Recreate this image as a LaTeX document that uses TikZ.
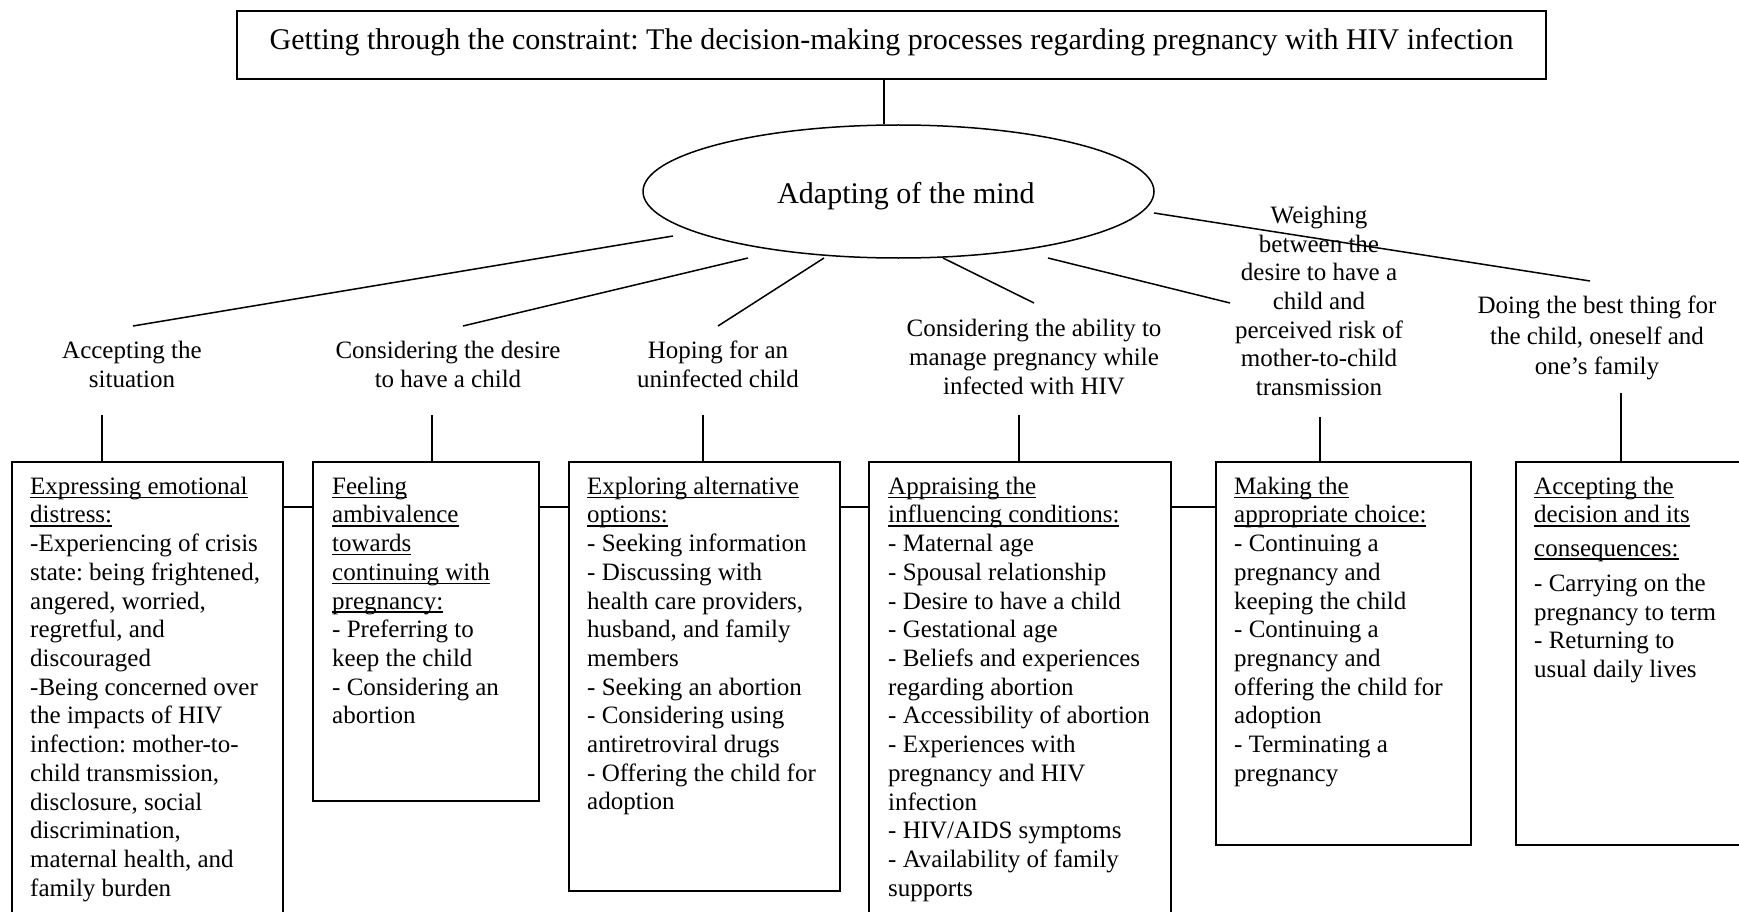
\documentclass[tikz,border=0pt]{standalone}
\usepackage{fontspec}
\setmainfont{Liberation Serif}
\usetikzlibrary{shapes.geometric}
\frenchspacing
% underlined heading line: rule drawn through the descenders, as in a word processor
\newsavebox{\hdbox}
\newcommand{\hd}[1]{\sbox{\hdbox}{#1}\rlap{\rule[-3.6pt]{\wd\hdbox}{1.3pt}}\usebox{\hdbox}}

\begin{document}
\begin{tikzpicture}[x=1pt,y=-1pt,
  every node/.style={font=\fontsize{25}{28.7}\selectfont},
  bigtext/.style={font=\fontsize{30}{34}\selectfont},
  link/.style={line width=1.5pt},
  frame/.style={draw, line width=1.5pt, inner sep=0pt, anchor=north west},
  bodytext/.style={align=left, inner sep=0pt, anchor=north west},
  caption/.style={align=center, inner sep=0pt},
]
\fill[white] (0,0) rectangle (1739,912);
\useasboundingbox (0,0) rectangle (1739,912);

% core category and central theme
\node[bigtext, draw, line width=2pt, inner sep=0pt, anchor=north west,
      text height=20.5pt, text depth=10.5pt,
      minimum width=1309pt, minimum height=68pt] (title) at (236,10)
  {Getting through the constraint: The decision-making processes regarding pregnancy with HIV infection};
\node[bigtext, draw, ellipse, line width=1.5pt, inner sep=0pt,
      text height=25pt, text depth=0pt,
      minimum width=511pt, minimum height=133pt] (mind) at (898.5,191.5)
  {\hspace*{15pt}Adapting of the mind};
\coordinate (spine) at (884,0);
\draw[link] (title.south -| spine) -- (mind.north -| spine);

% phases
\node[caption] (c1) at (132,364.5) {Accepting the\\situation};
\node[caption] (c2) at (448,364.5) {Considering the desire\\to have a child};
\node[caption] (c3) at (718,364.5) {Hoping for an\\uninfected child};
\node[caption] (c4) at (1034,357) {Considering the ability to\\manage pregnancy while\\infected with HIV};
\node[caption] (c5) at (1319,301) {Weighing\\between the\\desire to have a\\child and\\perceived risk of\\mother-to-child\\transmission};
\node[caption, font=\fontsize{25}{30.5}\selectfont] (c6) at (1597,338) {Doing the best thing for\\the child, oneself and\\one’s family};

% branches from the central theme
\coordinate (s1) at (673,236);  \coordinate (e1) at (133,326);
\coordinate (s2) at (748,258);  \coordinate (e2) at (463,326);
\coordinate (s3) at (824,258);  \coordinate (e3) at (718,326);
\coordinate (s4) at (943,258);  \coordinate (e4) at (1034,303);
\coordinate (s5) at (1048,258); \coordinate (e5) at (1230,303);
\coordinate (s6) at (1154,213); \coordinate (e6) at (1590,281);
\foreach \i in {1,...,6} \draw[link] (s\i) -- (e\i);

% strategy boxes
\node[frame, minimum width=271pt, minimum height=460pt] (b1) at (11,461) {};
\node[frame, minimum width=226pt, minimum height=339pt] (b2) at (312,461) {};
\node[frame, minimum width=271pt, minimum height=429pt] (b3) at (568,461) {};
\node[frame, minimum width=302pt, minimum height=460pt] (b4) at (868,461) {};
\node[frame, minimum width=255pt, minimum height=383pt] (b5) at (1215,461) {};
\node[frame, minimum width=240pt, minimum height=383pt] (b6) at (1515,461) {};

\node[bodytext] (t1) at ([shift={(19,13)}]b1.north west) {\strut\hd{Expressing emotional}\\
\hd{distress:}\\
-Experiencing of crisis\\
state: being frightened,\\
angered, worried,\\
regretful, and\\
discouraged\\
-Being concerned over\\
the impacts of HIV\\
infection: mother-to-\\
child transmission,\\
disclosure, social\\
discrimination,\\
maternal health, and\\
family burden};

\node[bodytext] (t2) at ([shift={(20,13)}]b2.north west) {\strut\hd{Feeling}\\
\hd{ambivalence}\\
\hd{towards}\\
\hd{continuing with}\\
\hd{pregnancy:}\\
- Preferring to\\
keep the child\\
- Considering an\\
abortion};

\node[bodytext] (t3) at ([shift={(19,13)}]b3.north west) {\strut\hd{Exploring alternative}\\
\hd{options:}\\
- Seeking information\\
- Discussing with\\
health care providers,\\
husband, and family\\
members\\
- Seeking an abortion\\
- Considering using\\
antiretroviral drugs\\
- Offering the child for\\
adoption};

\node[bodytext] (t4) at ([shift={(20,13)}]b4.north west) {\strut\hd{Appraising the}\\
\hd{influencing conditions:}\\
- Maternal age\\
- Spousal relationship\\
- Desire to have a child\\
- Gestational age\\
- Beliefs and experiences\\
regarding abortion\\
- Accessibility of abortion\\
- Experiences with\\
pregnancy and HIV\\
infection\\
- HIV/AIDS symptoms\\
- Availability of family\\
supports};

\node[bodytext] (t5) at ([shift={(19,13)}]b5.north west) {\strut\hd{Making the}\\
\hd{appropriate choice:}\\
- Continuing a\\
pregnancy and\\
keeping the child\\
- Continuing a\\
pregnancy and\\
offering the child for\\
adoption\\
- Terminating a\\
pregnancy};

\node[bodytext] (t6) at ([shift={(19,13)}]b6.north west) {\strut\hd{Accepting the}\\
\hd{decision and its}\\[4.5pt]
\hd{consequences:}\\[6.5pt]
- Carrying on the\\
pregnancy to term\\
- Returning to\\
usual daily lives};

% stubs from phases down to boxes
\coordinate (k1) at (102,415);
\coordinate (k2) at (432,415);
\coordinate (k3) at (703,415);
\coordinate (k4) at (1019,415);
\coordinate (k5) at (1320,417);
\coordinate (k6) at (1621,393);
\foreach \i in {1,...,6} \draw[link] (k\i) -- (k\i |- b\i.north);

% links between neighbouring boxes
\draw[link] ([shift={(0,46)}]b1.north east) -- ([shift={(0,46)}]b2.north west);
\draw[link] ([shift={(0,46)}]b2.north east) -- ([shift={(0,46)}]b3.north west);
\draw[link] ([shift={(0,46)}]b3.north east) -- ([shift={(0,46)}]b4.north west);
\draw[link] ([shift={(0,46)}]b4.north east) -- ([shift={(0,46)}]b5.north west);
\end{tikzpicture}
\end{document}
